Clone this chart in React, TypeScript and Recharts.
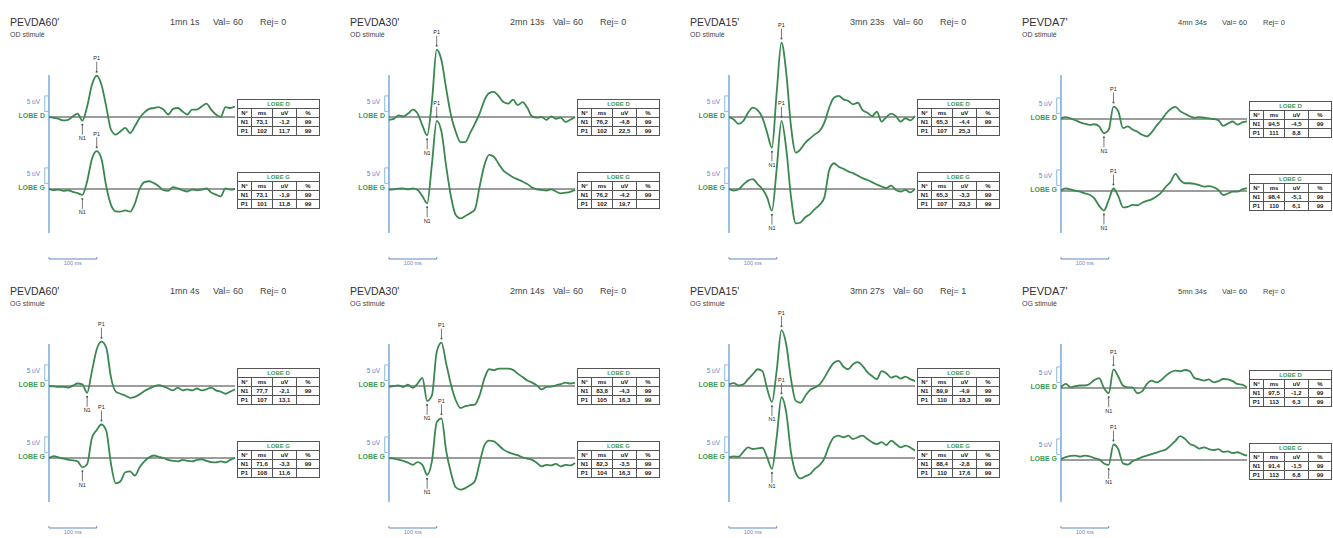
import React from "react";
import {
  LineChart,
  Line,
  XAxis,
  YAxis,
  ReferenceLine,
  ReferenceArea,
  ReferenceDot,
} from "recharts";

// sample times (ms after stimulus), shared by every trace
const TIME_MS = [
  0, 10, 20, 30, 40, 50, 60, 70, 80, 90, 100, 110, 120, 130, 140, 150, 160, 170, 180, 190,
  200, 210, 220, 230, 240, 250, 260, 270, 280, 290, 300, 310, 320, 330, 340, 350, 360, 370, 380, 390,
];

// amplitudes in uV
const OD60_D = [0, -0.3, -0.6, -1.1, -0.9, 0.2, 1.1, -1.2, 3.4, 10.4, 13.3, 10.4, 3.4, -4.1, -5.7, -4.6, -3.5, -5.2, -3.0, -0.3, 1.5, 2.6, 2.9, 3.2, 2.4, 0.8, 2.6, 2.9, 1.8, 0.8, 2.4, 2.4, 3.4, 4.3, 2.4, 0.8, 0, 3.2, 2.9, 3.4];
const OD60_G = [0, -0.4, -0.2, -0.6, -0.4, -0.9, -1.3, -1.9, 2.5, 9.7, 12.2, 9.7, 0.9, -5.1, -7.2, -7.3, -6.9, -7.3, -4.7, 0, 2.2, 2.5, 1.9, 0.9, -0.4, -0.6, 0.6, 0.2, -0.4, -0.8, -0.2, -0.4, -0.2, 0.2, -1.1, -1.8, -2.4, 0.2, -0.2, 0];
const OD30_D = [-0.9, -0.6, 0.5, 0.2, 1.1, 2.4, 1.1, -2.7, -5.9, 5.0, 21.7, 18.3, 9.1, 0.5, -4.8, -8.1, -8.1, -5.2, -2.2, 1.1, 5.4, 7.7, 8.1, 6.7, 4.8, 4.3, 5.6, 3.8, 4.8, 3.0, 0.2, -0.2, 0, -0.9, 0.2, -0.6, -0.2, -1.6, -0.9, 0];
const OD30_G = [-0.3, -0.1, 0.1, 0.2, -0.1, 0.2, -0.3, -2.3, -4.6, 8.0, 22.0, 18.5, 7.2, -2.5, -8.4, -9.5, -8.7, -7.8, -6.6, 0.8, 7.7, 11.0, 10.4, 8.1, 5.9, 4.8, 3.8, 3.1, 2.4, 1.6, 0.5, -0.1, -0.3, -0.5, -0.1, -0.8, -1.4, -1.2, -0.9, -0.3];
const OD15_D = [0, -0.8, -2.2, -1.3, 1.4, 3.0, 2.2, -0.2, -5.1, -9.9, 8.0, 24.0, 14.3, -3.0, -11.5, -10.4, -8.3, -6.9, -5.6, -4.5, -1.8, 3.0, 6.2, 6.8, 5.7, 5.2, 4.1, 4.6, 2.2, 1.4, 0.3, 1.7, -1.5, 0, 1.1, 0.3, -1.5, -0.4, -1.1, 0.3];
const OD15_G = [0, -0.5, -0.1, 1.4, 2.7, 3.2, 1.6, 0, -2.7, -7.0, 6.5, 22.0, 13.0, -2.5, -11.1, -10.8, -9.1, -8.1, -6.5, -5.1, -2.7, 6.0, 8.3, 7.2, 6.5, 5.7, 5.1, 4.3, 3.5, 2.9, 2.2, 1.4, 0.8, 0.3, 1.1, -0.3, -0.8, -0.3, -1.1, 0];
const OD7_D = [0.3, 0.6, 0.2, -0.4, -1.1, -1.5, -1.9, -1.7, -2.4, -4.6, -3.5, 4.0, 2.5, -2.9, -2.4, -3.4, -4.1, -5.1, -5.6, -4.3, -2.2, -0.4, 1.7, 3.2, 3.9, 2.5, 1.7, 0.9, 0.4, 0.6, 0.4, 0.2, 0, -0.4, -2.2, -1.5, -0.8, -1.8, -1.1, -0.8];
const OD7_G = [0.3, 0.8, 0.5, 0.1, -0.2, -0.8, -1.2, -2.4, -4.8, -6.3, -2.9, 0.8, -1.6, -5.3, -5.1, -4.5, -4.6, -3.8, -3.2, -2.7, -1.8, -0.5, 1.4, 3.0, 5.5, 3.5, 2.5, 2.5, 2.3, 1.9, 1.4, 1.6, 1.2, 0.3, -1.3, -0.8, -0.2, -0.2, 0.5, 0.9];

const OG60_D = [0, -0.1, -0.3, -0.3, -0.5, 0.1, 0.8, 0.5, -2.2, 4.8, 11.8, 14.3, 12.4, 2.7, -1.8, -2.5, -3.1, -3.8, -3.5, -2.7, -1.6, -0.8, -0.1, 0.3, -0.1, -0.8, -1.4, -0.5, -1.4, -1.1, -1.4, -0.8, -1.4, -1.1, -0.5, -1.4, -1.8, -2.5, -1.8, -1.1];
const OG60_G = [0, 0.6, 0.2, -0.2, -0.5, -0.8, -1.1, -3.0, -2.0, 6.5, 9.0, 10.8, 8.8, -1.9, -8.2, -7.5, -4.6, -4.3, -5.7, -3.0, -1.1, 0.2, 0.8, 0.4, 0, -0.6, -0.9, -1.1, -0.6, -0.9, -1.1, -0.6, -0.4, -0.9, -1.3, -1.4, -1.1, -1.4, -0.6, 0];
const OG30_D = [-0.3, 0, 0.2, -0.3, 0.4, -0.6, 0.8, 2.6, -4.8, -3.0, 11.0, 14.0, 7.2, 0.4, -4.6, -7.1, -6.5, -6.2, -6.0, -3.0, 2.4, 5.4, 5.1, 5.6, 5.6, 5.6, 5.2, 4.0, 2.9, 1.8, 1.1, 0.2, -1.1, -0.3, -0.2, 0.2, 0.6, 1.1, 0.8, 1.1];
const OG30_G = [0, -0.2, -0.5, -0.9, -1.5, -2.2, -1.3, -2.2, -5.4, -1.0, 11.5, 12.8, 2.2, -4.8, -9.5, -10.2, -9.7, -8.8, -7.5, -1.6, 4.1, 5.6, 5.4, 4.1, 2.7, 1.9, 1.3, 0.9, 0.2, -0.2, -0.6, -1.6, -2.7, -2.2, -2.4, -1.9, -2.7, -2.2, -2.4, -1.6];
const OG15_D = [0.5, 0.9, 0.2, 0.5, 2.2, 3.8, 5.4, 4.8, -0.9, -5.2, 5.0, 18.0, 13.4, 2.2, -4.8, -5.4, -3.2, -1.3, -0.5, 0.5, 2.7, 5.4, 7.5, 8.1, 6.2, 5.4, 7.0, 7.7, 6.5, 4.5, 3.2, 2.2, 4.8, 4.1, 2.7, 3.2, 2.4, 3.0, 2.2, 1.6];
const OG15_G = [0.2, 0.5, 0.4, 2.0, 3.4, 2.9, 3.1, 3.3, 0.2, -3.5, 6.7, 19.6, 14.7, 1.8, -4.8, -6.6, -5.9, -5.2, -3.5, -2.3, -0.1, 4.0, 6.7, 7.2, 6.7, 7.2, 6.1, 6.7, 7.2, 6.1, 5.1, 4.5, 5.1, 4.2, 5.6, 4.5, 3.4, 4.0, 3.4, 2.4];
const OG7_D = [0.2, 1.3, 0.2, 0.6, 0.8, 0.8, 1.3, 2.6, 3.2, 0, -1.7, 6.0, 3.7, 0.8, 0.2, 0.2, -1.7, -1.1, 1.3, 2.4, 1.8, 2.6, 4.0, 5.1, 5.6, 5.4, 5.8, 5.4, 3.2, 2.8, 2.4, 2.8, 1.8, 2.2, 2.9, 2.8, 2.2, 1.3, 1.1, 0.2];
const OG7_G = [0.3, 0.9, 1.3, 1.4, 1.1, 1.4, 1.2, 0.6, 0.2, -1.1, -1.6, 5.0, 3.5, -1.1, -1.5, -0.4, 0.3, 0.9, 1.4, 1.9, 2.4, 2.9, 3.4, 4.7, 6.2, 7.7, 6.8, 5.2, 4.6, 3.7, 4.1, 3.5, 3.2, 3.5, 2.6, 2.8, 2.2, 2.5, 1.9, 1.4];

// measurement tables: N°, ms, uV, %
const OD60_TAB_D = [["N1", "73,1", "-1,2", "99"], ["P1", "102", "11,7", "99"]];
const OD60_TAB_G = [["N1", "73,1", "-1,9", "99"], ["P1", "101", "11,8", "99"]];
const OD30_TAB_D = [["N1", "76,2", "-4,8", "99"], ["P1", "102", "22,5", "99"]];
const OD30_TAB_G = [["N1", "76,2", "-4,2", "99"], ["P1", "102", "19,7", ""]];
const OD15_TAB_D = [["N1", "65,3", "-4,4", "99"], ["P1", "107", "25,3", ""]];
const OD15_TAB_G = [["N1", "65,3", "-3,3", "99"], ["P1", "107", "23,3", "99"]];
const OD7_TAB_D = [["N1", "94,5", "-4,5", "99"], ["P1", "111", "8,8", ""]];
const OD7_TAB_G = [["N1", "98,4", "-5,1", "99"], ["P1", "110", "6,1", "99"]];
const OG60_TAB_D = [["N1", "77,7", "-2,1", "99"], ["P1", "107", "13,1", ""]];
const OG60_TAB_G = [["N1", "71,6", "-3,3", "99"], ["P1", "108", "11,6", ""]];
const OG30_TAB_D = [["N1", "83,8", "-4,3", "99"], ["P1", "105", "16,3", "99"]];
const OG30_TAB_G = [["N1", "82,3", "-3,5", "99"], ["P1", "104", "16,3", "99"]];
const OG15_TAB_D = [["N1", "89,9", "-4,9", "99"], ["P1", "110", "18,3", "99"]];
const OG15_TAB_G = [["N1", "88,4", "-2,8", "99"], ["P1", "110", "17,6", "99"]];
const OG7_TAB_D = [["N1", "97,5", "-1,2", "99"], ["P1", "113", "6,3", "99"]];
const OG7_TAB_G = [["N1", "91,4", "-1,5", "99"], ["P1", "113", "6,8", "99"]];

const PROTOCOLS = ["PEVDA60'", "PEVDA30'", "PEVDA15'", "PEVDA7'"];
const DURATIONS_OD = ["1mn 1s", "2mn 13s", "3mn 23s", "4mn 34s"];
const DURATIONS_OG = ["1mn 4s", "2mn 14s", "3mn 27s", "5mn 34s"];
const REJ_OD = [0, 0, 0, 0];
const REJ_OG = [0, 0, 1, 0];
const VAL = 60;

// layout
const PX_PER_UV = 3.1;
const PLOT_W = 186; // 0..390 ms
const LEFT_PAD = 20;
const CHART_TOP = 10;
const CHART_H = 265;
const COL_AXIS_X = [49, 389, 729, 1061];
const ROW_Y = [0, 269];
const BASE_D = 117;
const BASE_G = 189;

const GREEN = "#3a8750";
const LABEL_GREEN = "#3d9c56";
const BLUE = "#8fb9e3";
const BLUE_TEXT = "#5f86c6";
const INK = "#333";
const COL_W = [14, 21, 24, 23];

type Row = string[];
interface PanelDef {
  col: number;
  row: number;
  eye: string;
  duration: string;
  rej: number;
  d: number[];
  g: number[];
  tabD: Row[];
  tabG: Row[];
}

const OD_D = [OD60_D, OD30_D, OD15_D, OD7_D];
const OD_G = [OD60_G, OD30_G, OD15_G, OD7_G];
const OG_D = [OG60_D, OG30_D, OG15_D, OG7_D];
const OG_G = [OG60_G, OG30_G, OG15_G, OG7_G];
const OD_TD = [OD60_TAB_D, OD30_TAB_D, OD15_TAB_D, OD7_TAB_D];
const OD_TG = [OD60_TAB_G, OD30_TAB_G, OD15_TAB_G, OD7_TAB_G];
const OG_TD = [OG60_TAB_D, OG30_TAB_D, OG15_TAB_D, OG7_TAB_D];
const OG_TG = [OG60_TAB_G, OG30_TAB_G, OG15_TAB_G, OG7_TAB_G];

const PANELS: PanelDef[] = [
  ...PROTOCOLS.map((_, i) => ({
    col: i, row: 0, eye: "OD stimulé", duration: DURATIONS_OD[i], rej: REJ_OD[i],
    d: OD_D[i], g: OD_G[i], tabD: OD_TD[i], tabG: OD_TG[i],
  })),
  ...PROTOCOLS.map((_, i) => ({
    col: i, row: 1, eye: "OG stimulé", duration: DURATIONS_OG[i], rej: REJ_OG[i],
    d: OG_D[i], g: OG_G[i], tabD: OG_TD[i], tabG: OG_TG[i],
  })),
];

function argExt(s: number[], from: number, to: number, max: boolean) {
  let best = from;
  for (let i = from; i <= to; i++) {
    if (max ? s[i] > s[best] : s[i] < s[best]) best = i;
  }
  return best;
}

function peakMarks(s: number[], axis: string) {
  const n1 = argExt(s, 5, 10, false);
  const p1 = argExt(s, 9, 13, true);
  const lbl = { fontSize: 5.5, fill: "#222", offset: 1.5 };
  return [
    <ReferenceLine
      key={axis + "p1"}
      yAxisId={axis}
      segment={[{ x: TIME_MS[p1], y: s[p1] + 1.2 }, { x: TIME_MS[p1], y: s[p1] + 4.5 }]}
      stroke="#555"
      strokeWidth={0.8}
      ifOverflow="visible"
      label={{ ...lbl, value: "P1", position: "top" }}
    />,
    <ReferenceDot key={axis + "p1d"} yAxisId={axis} x={TIME_MS[p1]} y={s[p1] + 1.3} r={1} fill="#555" stroke="none" ifOverflow="visible" />,
    <ReferenceLine
      key={axis + "n1"}
      yAxisId={axis}
      segment={[{ x: TIME_MS[n1], y: s[n1] - 1.2 }, { x: TIME_MS[n1], y: s[n1] - 4.5 }]}
      stroke="#555"
      strokeWidth={0.8}
      ifOverflow="visible"
      label={{ ...lbl, value: "N1", position: "bottom" }}
    />,
    <ReferenceDot key={axis + "n1d"} yAxisId={axis} x={TIME_MS[n1]} y={s[n1] - 1.3} r={1} fill="#555" stroke="none" ifOverflow="visible" />,
  ];
}

function Table({ lobe, rows, left, top }: { lobe: string; rows: Row[]; left: number; top: number }) {
  const cell: React.CSSProperties = {
    border: "1px solid #555",
    padding: 0,
    height: 8,
    lineHeight: "8px",
    textAlign: "center",
  };
  return (
    <table
      style={{
        position: "absolute",
        left,
        top,
        borderCollapse: "collapse",
        fontSize: 6,
        fontWeight: "bold",
        color: "#222",
        tableLayout: "fixed",
        width: COL_W.reduce((a, b) => a + b, 0),
        background: "#fff",
      }}
    >
      <colgroup>
        {COL_W.map((w, i) => (
          <col key={i} style={{ width: w }} />
        ))}
      </colgroup>
      <tbody>
        <tr>
          <td colSpan={4} style={{ ...cell, color: LABEL_GREEN }}>{lobe}</td>
        </tr>
        <tr>
          {["N°", "ms", "uV", "%"].map((h) => (
            <td key={h} style={cell}>{h}</td>
          ))}
        </tr>
        {rows.map((r) => (
          <tr key={r[0]}>
            {r.map((v, j) => (
              <td key={j} style={cell}>{v}</td>
            ))}
          </tr>
        ))}
      </tbody>
    </table>
  );
}

function Panel({ p }: { p: PanelDef }) {
  const axisX = COL_AXIS_X[p.col];
  const top = ROW_Y[p.row];
  const small = p.col === 3;
  const yD = top + BASE_D + (small ? 2 : 0);
  const yG = top + BASE_G + (small ? 2 : 0);
  const chartTop = top + CHART_TOP;
  const span = CHART_H / PX_PER_UV;
  const hiD = (yD - chartTop) / PX_PER_UV;
  const hiG = (yG - chartTop) / PX_PER_UV;
  const toD = (py: number) => (yD - py) / PX_PER_UV;
  const data = TIME_MS.map((t, i) => ({ t, d: p.d[i], g: p.g[i] }));
  const barY = toD(top + 259);
  const hdr = small ? [117, 161, 202] : [121, 164, 211];
  const hdrSize = small ? 7.5 : 9;

  const sideText = (y: number, lobe: string) => (
    <>
      <div style={{ position: "absolute", left: axisX - 60, width: 51, top: y - 19, fontSize: 6.5, color: BLUE_TEXT, textAlign: "right" }}>
        5 uV
      </div>
      <div style={{ position: "absolute", left: axisX - 60, width: 56, top: y - 5, fontSize: 7, fontWeight: "bold", color: LABEL_GREEN, textAlign: "right" }}>
        {lobe}
      </div>
    </>
  );

  return (
    <>
      <div style={{ position: "absolute", left: axisX - 39, top: top + 16, fontSize: small ? 11 : 10.5, color: INK }}>
        {PROTOCOLS[p.col]}
      </div>
      <div style={{ position: "absolute", left: axisX - 39, top: top + 31, fontSize: 7, color: "#444" }}>
        {p.eye}
      </div>
      {[p.duration, `Val= ${VAL}`, `Rej= ${p.rej}`].map((s, i) => (
        <div key={i} style={{ position: "absolute", left: axisX + hdr[i], top: top + (small ? 18 : 17), fontSize: hdrSize, color: "#444", whiteSpace: "nowrap" }}>
          {s}
        </div>
      ))}
      {sideText(yD, "LOBE D")}
      {sideText(yG, "LOBE G")}
      <div style={{ position: "absolute", left: axisX - LEFT_PAD, top: chartTop }}>
        <LineChart
          width={LEFT_PAD + PLOT_W + 2}
          height={CHART_H}
          data={data}
          margin={{ top: 0, right: 2, bottom: 0, left: LEFT_PAD }}
        >
          <XAxis type="number" dataKey="t" domain={[0, 390]} hide />
          <YAxis yAxisId="d" type="number" domain={[hiD - span, hiD]} hide />
          <YAxis yAxisId="g" type="number" domain={[hiG - span, hiG]} hide />
          <ReferenceLine
            yAxisId="d"
            segment={[{ x: 0, y: toD(top + 75) }, { x: 0, y: toD(top + 233) }]}
            stroke={BLUE}
            strokeWidth={1.8}
            ifOverflow="visible"
          />
          <ReferenceArea yAxisId="d" x1={-9} x2={-1} y1={1.8} y2={6.8} fill="none" stroke={BLUE} strokeWidth={1} ifOverflow="visible" />
          <ReferenceArea yAxisId="g" x1={-9} x2={-1} y1={1.8} y2={6.8} fill="none" stroke={BLUE} strokeWidth={1} ifOverflow="visible" />
          <ReferenceLine yAxisId="d" y={0} stroke="#3a3a3a" strokeWidth={1} />
          <ReferenceLine yAxisId="g" y={0} stroke="#3a3a3a" strokeWidth={1} />
          <ReferenceLine
            yAxisId="d"
            segment={[{ x: 0, y: barY }, { x: 100, y: barY }]}
            stroke={BLUE_TEXT}
            strokeWidth={1}
            ifOverflow="visible"
            label={{ value: "100 ms", position: "bottom", fontSize: 5.5, fill: BLUE_TEXT, offset: 2 }}
          />
          <ReferenceLine yAxisId="d" segment={[{ x: 0, y: barY }, { x: 0, y: barY + 0.6 }]} stroke={BLUE_TEXT} ifOverflow="visible" />
          <ReferenceLine yAxisId="d" segment={[{ x: 100, y: barY }, { x: 100, y: barY + 0.6 }]} stroke={BLUE_TEXT} ifOverflow="visible" />
          {peakMarks(p.d, "d")}
          {peakMarks(p.g, "g")}
          <Line yAxisId="d" dataKey="d" type="monotone" stroke={GREEN} strokeWidth={1.8} dot={false} isAnimationActive={false} />
          <Line yAxisId="g" dataKey="g" type="monotone" stroke={GREEN} strokeWidth={1.8} dot={false} isAnimationActive={false} />
        </LineChart>
      </div>
      <Table lobe="LOBE D" rows={p.tabD} left={axisX + 188} top={yD - 18} />
      <Table lobe="LOBE G" rows={p.tabG} left={axisX + 188} top={yG - 17} />
    </>
  );
}

export default function App() {
  return (
    <div
      style={{
        position: "fixed",
        left: 0,
        top: 0,
        width: 1333,
        height: 538,
        background: "#fff",
        overflow: "hidden",
        fontFamily: "'Liberation Sans', Arial, sans-serif",
      }}
    >
      {PANELS.map((p, i) => (
        <Panel key={i} p={p} />
      ))}
    </div>
  );
}
